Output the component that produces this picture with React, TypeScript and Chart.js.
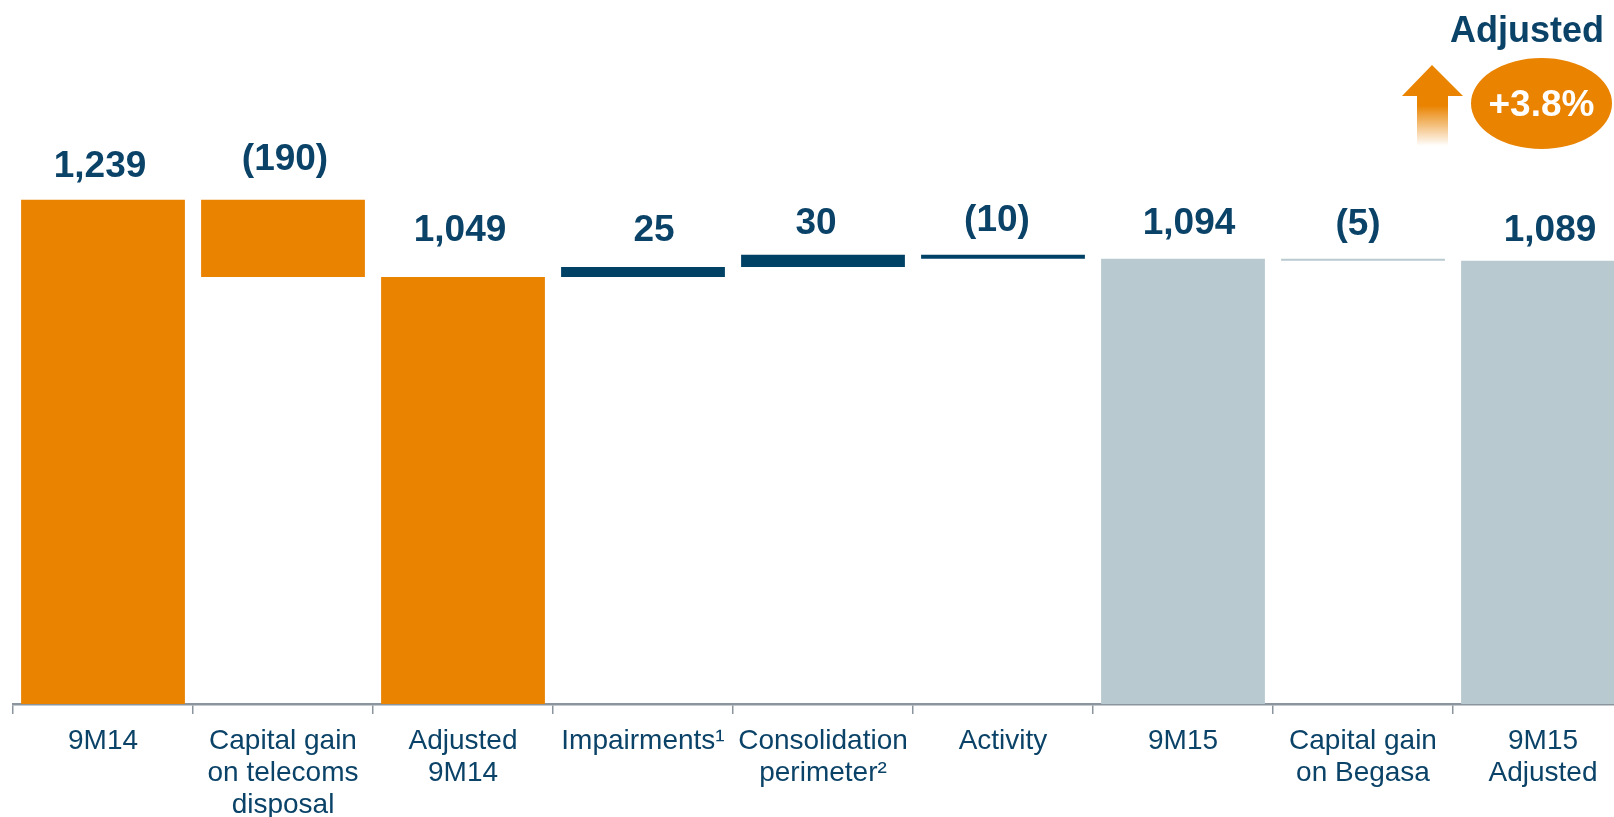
import React, { useEffect, useRef } from "react";
import { Chart, registerables } from "chart.js";

Chart.register(...registerables);

// ---------- data ----------
const categories: (string | string[])[] = [
  "9M14",
  ["Capital gain", "on telecoms", "disposal"],
  ["Adjusted", "9M14"],
  "Impairments¹",
  ["Consolidation", "perimeter²"],
  "Activity",
  "9M15",
  ["Capital gain", "on Begasa"],
  ["9M15", "Adjusted"],
];
const values = [1239, -190, 1049, 25, 30, -10, 1094, -5, 1089];
const isTotal = [true, false, true, false, false, false, true, false, true];
const badgeTitle = "Adjusted";
const badgeValue = "+3.8%";

// ---------- styles ----------
const ORANGE = "#E98300";
const NAVY = "#004166";
const GREY = "#B8C9D0";
const TEXT = "#0B4368";
const AXIS = "#8C959E";
const FONT = '"Liberation Sans", Arial, Helvetica, sans-serif';
const barColors = [ORANGE, ORANGE, ORANGE, NAVY, NAVY, NAVY, GREY, GREY, GREY];
const labelLift = [33, 40, 46, 36, 31, 34, 35, 34, 30];
const labelShift = [-3, 2, -3, 11, -7, -6, 6, -5, 7];

function fmt(v: number): string {
  const s = Math.abs(v).toLocaleString("en-US");
  return v < 0 ? `(${s})` : s;
}

function buildRanges(): [number, number][] {
  let running = 0;
  return values.map((v, i) => {
    if (isTotal[i]) {
      running = v;
      return [0, v] as [number, number];
    }
    const r: [number, number] = [running, running + v];
    running += v;
    return r;
  });
}

const valueLabelPlugin = {
  id: "valueLabels",
  afterDatasetsDraw(chart: any) {
    const ctx = chart.ctx;
    const meta = chart.getDatasetMeta(0);
    ctx.save();
    ctx.font = `bold 37px ${FONT}`;
    ctx.fillStyle = TEXT;
    ctx.textAlign = "center";
    ctx.textBaseline = "middle";
    meta.data.forEach((bar: any, i: number) => {
      const p = bar.getProps(["x", "y", "base"], true);
      const top = Math.min(p.y, p.base);
      ctx.fillText(fmt(values[i]), p.x + labelShift[i], top - labelLift[i]);
    });
    ctx.restore();
  },
};

export default function App() {
  const ref = useRef<HTMLCanvasElement | null>(null);

  useEffect(() => {
    if (!ref.current) return;
    const chart = new Chart(ref.current, {
      type: "bar",
      data: {
        labels: categories as any,
        datasets: [
          {
            data: buildRanges() as any,
            backgroundColor: barColors,
            borderWidth: 0,
            borderSkipped: false,
            barPercentage: 0.91,
            categoryPercentage: 1,
          },
        ],
      },
      options: {
        responsive: false,
        animation: false,
        devicePixelRatio: 1,
        layout: { padding: { left: 13, right: 7, top: 0, bottom: 0 } },
        plugins: {
          legend: { display: false },
          tooltip: { enabled: false },
        },
        scales: {
          x: {
            offset: true,
            grid: {
              display: true,
              drawOnChartArea: false,
              drawTicks: true,
              tickLength: 10,
              color: AXIS,
              lineWidth: 1.5,
              offset: true,
            },
            border: { display: true, color: AXIS, width: 2.5 },
            ticks: {
              color: TEXT,
              font: { family: FONT, size: 28, lineHeight: 1.14 },
              padding: 11,
              maxRotation: 0,
              autoSkip: false,
            },
            afterFit: (scale: any) => {
              scale.height = 113;
            },
          },
          y: {
            display: false,
            min: 0,
            max: 1730,
          },
        },
      },
      plugins: [valueLabelPlugin],
    });
    return () => chart.destroy();
  }, []);

  return (
    <div
      style={{
        position: "fixed",
        left: 0,
        top: 0,
        width: 1614,
        height: 817,
        overflow: "hidden",
        background: "#fff",
      }}
    >
      <canvas ref={ref} width={1640} height={817} style={{ display: "block" }} />
      <div
        style={{
          position: "absolute",
          right: 10,
          top: 9,
          fontFamily: FONT,
          fontWeight: "bold",
          fontSize: 36,
          lineHeight: "42px",
          color: TEXT,
          whiteSpace: "nowrap",
        }}
      >
        {badgeTitle}
      </div>
      <svg
        style={{ position: "absolute", left: 1400, top: 63 }}
        width={66}
        height={85}
        viewBox="0 0 66 85"
      >
        <defs>
          <linearGradient id="arrowFade" x1="0" y1="0" x2="0" y2="1">
            <stop offset="0" stopColor={ORANGE} stopOpacity={1} />
            <stop offset="0.5" stopColor={ORANGE} stopOpacity={1} />
            <stop offset="1" stopColor={ORANGE} stopOpacity={0} />
          </linearGradient>
        </defs>
        <polygon
          points="32,2 63,33 48,33 48,83 17,83 17,33 2,33"
          fill="url(#arrowFade)"
        />
      </svg>
      <div
        style={{
          position: "absolute",
          left: 1471,
          top: 58,
          width: 141,
          height: 91,
          borderRadius: "50%",
          background: ORANGE,
          color: "#fff",
          fontFamily: FONT,
          fontWeight: "bold",
          fontSize: 37,
          display: "flex",
          alignItems: "center",
          justifyContent: "center",
          whiteSpace: "nowrap",
        }}
      >
        {badgeValue}
      </div>
    </div>
  );
}
